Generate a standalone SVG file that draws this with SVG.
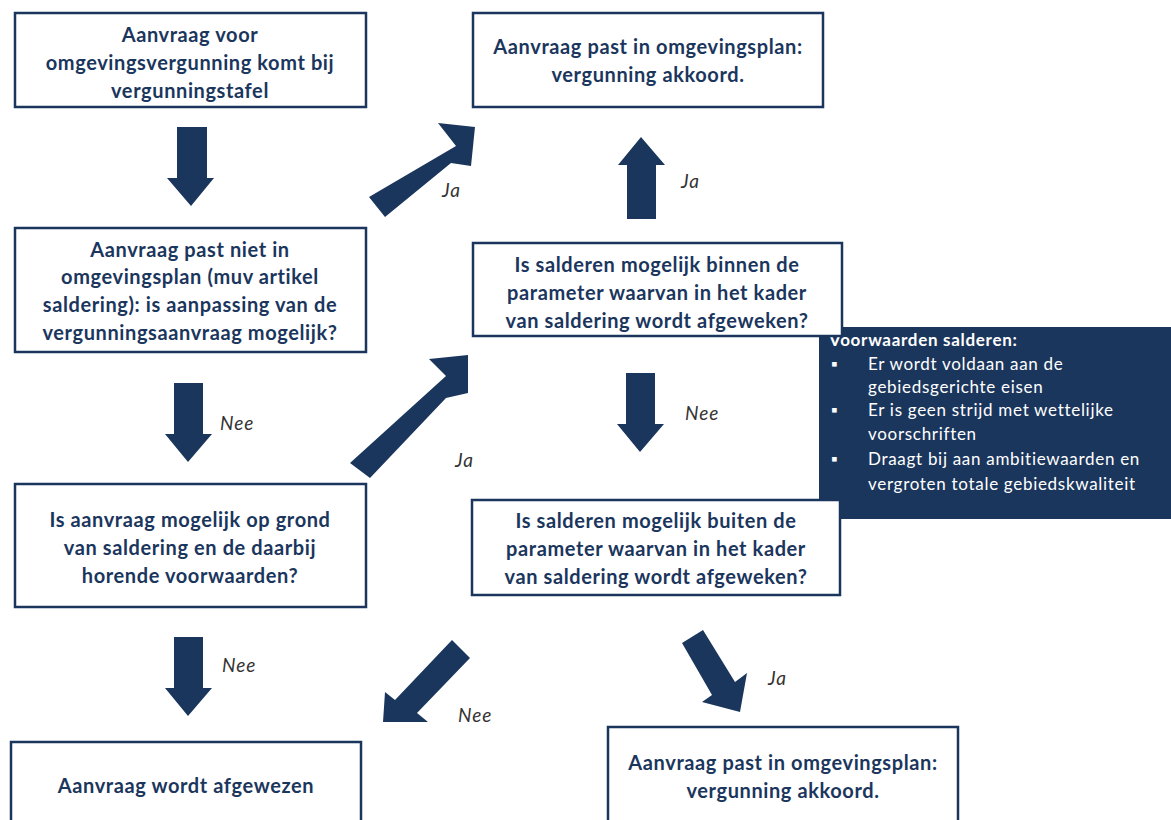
<svg xmlns="http://www.w3.org/2000/svg" width="1171" height="820" viewBox="0 0 1171 820">
<style>
.box{fill:#fff;stroke:#1b365d;stroke-width:2.5}
.t{font-family:Lato,"Liberation Sans",sans-serif;font-weight:bold;font-size:20px;letter-spacing:0.6px;fill:#1b365d;text-anchor:middle}
.arr{fill:#1b365d}
.lbl{font-family:Lato,"Liberation Sans",sans-serif;font-style:italic;font-size:19px;letter-spacing:1px;fill:#333}
.w{font-family:Lato,"Liberation Sans",sans-serif;font-size:17px;letter-spacing:0.7px;fill:#fff}
</style>
<rect x="0" y="0" width="1171" height="820" fill="#fff"/>
<g id="voorwaarden">
<rect x="819" y="327" width="352" height="192" fill="#1b365d"/>
<text class="w" font-weight="bold" x="829" y="346">Voorwaarden salderen:</text>
<text class="w" x="831" y="370">▪</text>
<text class="w" x="868" y="370">Er wordt voldaan aan de</text>
<text class="w" x="868" y="393">gebiedsgerichte eisen</text>
<text class="w" x="831" y="416">▪</text>
<text class="w" x="868" y="416">Er is geen strijd met wettelijke</text>
<text class="w" x="868" y="440">voorschriften</text>
<text class="w" x="831" y="465">▪</text>
<text class="w" x="868" y="465">Draagt bij aan ambitiewaarden en</text>
<text class="w" x="868" y="490">vergroten totale gebiedskwaliteit</text>
</g>
<g id="n1">
<rect class="box" x="15" y="13" width="351" height="94"/>
<text class="t" x="190" y="42">Aanvraag voor</text>
<text class="t" x="190" y="70">omgevingsvergunning komt bij</text>
<text class="t" x="190" y="98">vergunningstafel</text>
</g>
<g id="n2">
<rect class="box" x="473" y="13" width="350" height="94"/>
<text class="t" x="648" y="54">Aanvraag past in omgevingsplan:</text>
<text class="t" x="648" y="82">vergunning akkoord.</text>
</g>
<g id="n3">
<rect class="box" x="15" y="228" width="351" height="124"/>
<text class="t" x="190" y="257">Aanvraag past niet in</text>
<text class="t" x="190" y="284">omgevingsplan (muv artikel</text>
<text class="t" x="190" y="312">saldering): is aanpassing van de</text>
<text class="t" x="190" y="340">vergunningsaanvraag mogelijk?</text>
</g>
<g id="n4">
<rect class="box" x="473" y="243" width="369" height="93"/>
<text class="t" x="657" y="272">Is salderen mogelijk binnen de</text>
<text class="t" x="657" y="300">parameter waarvan in het kader</text>
<text class="t" x="657" y="328">van saldering wordt afgeweken?</text>
</g>
<g id="n5">
<rect class="box" x="15" y="484" width="351" height="123"/>
<text class="t" x="190" y="527">Is aanvraag mogelijk op grond</text>
<text class="t" x="190" y="555">van saldering en de daarbij</text>
<text class="t" x="190" y="583">horende voorwaarden?</text>
</g>
<g id="n6">
<rect class="box" x="472" y="500" width="368" height="95"/>
<text class="t" x="656" y="528">Is salderen mogelijk buiten de</text>
<text class="t" x="656" y="556">parameter waarvan in het kader</text>
<text class="t" x="656" y="584">van saldering wordt afgeweken?</text>
</g>
<g id="n7">
<rect class="box" x="11" y="742" width="350" height="90"/>
<text class="t" x="186" y="793">Aanvraag wordt afgewezen</text>
</g>
<g id="n8">
<rect class="box" x="608" y="727" width="350" height="100"/>
<text class="t" x="783" y="770">Aanvraag past in omgevingsplan:</text>
<text class="t" x="783" y="798">vergunning akkoord.</text>
</g>
<g id="connectors">
<polygon class="arr" points="177,127 207,127 207,178 214,178 191,206 167,178 177,178"/>
<polygon class="arr" points="174,383 203,383 203,434 212,434 188,462 165,434 174,434"/>
<polygon class="arr" points="174,637 203,637 203,688 212,688 188,716 165,688 174,688"/>
<polygon class="arr" points="627,219 656,219 656,165 665,165 641,137 618,165 627,165"/>
<polygon class="arr" points="626,373 655,373 655,424 664,424 640,452 617,424 626,424"/>
<polygon class="arr" points="369,197 385,217 451,163 471,166 475,127 438,123 456,146"/>
<polygon class="arr" points="350,463 370,478 446,398 468,393 468,355 429,359 446,376"/>
<polygon class="arr" points="452,640 470,658 417,713 428,722 383,722 385,692 395,700"/>
<polygon class="arr" points="682,643 703,630 735,682 747,673 740,712 702,702 712,695"/>
<text class="lbl" x="442" y="197">Ja</text>
<text class="lbl" x="681" y="188">Ja</text>
<text class="lbl" x="220" y="430">Nee</text>
<text class="lbl" x="685" y="420">Nee</text>
<text class="lbl" x="455" y="467">Ja</text>
<text class="lbl" x="222" y="672">Nee</text>
<text class="lbl" x="458" y="722">Nee</text>
<text class="lbl" x="768" y="685">Ja</text>
</g>
</svg>
